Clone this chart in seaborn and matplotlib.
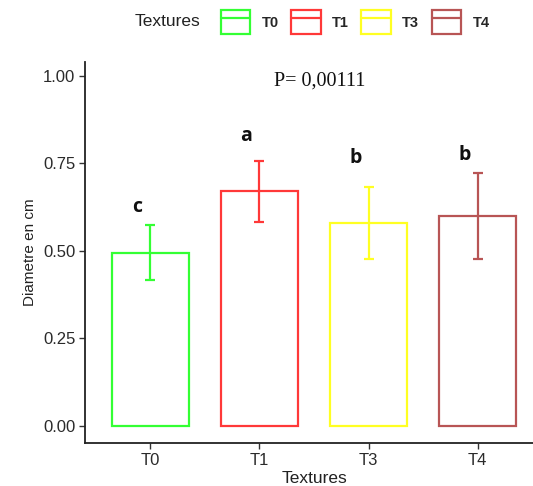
import matplotlib
matplotlib.use("Agg")
import matplotlib.pyplot as plt
import seaborn as sns
import pandas as pd
from matplotlib.patches import Patch
from matplotlib.lines import Line2D
from matplotlib.legend_handler import HandlerTuple

textures = ["T0", "T1", "T3", "T4"]
means = [0.495, 0.670, 0.578, 0.600]
sds = [0.080, 0.087, 0.103, 0.123]
letters = ["c", "a", "b", "b"]
letter_y = [0.625, 0.828, 0.765, 0.774]
colors = ["#33FF33", "#FF3838", "#FFFF22", "#B85555"]
y_ticks = [0.00, 0.25, 0.50, 0.75, 1.00]

sns.set_theme(style="white")
plt.rcParams["font.family"] = ["Liberation Sans", "DejaVu Sans"]

df = pd.DataFrame({"Textures": textures, "Diametre": means, "sd": sds})

fig = plt.figure(figsize=(5.33, 4.86), dpi=100)
ax = fig.add_axes([85 / 533, 1 - 443 / 486, (543 - 85) / 533, (443 - 62) / 486])

sns.barplot(data=df, x="Textures", y="Diametre", hue="Textures", palette=colors,
            fill=False, width=0.7, errorbar=None, legend=False, linewidth=1.6, ax=ax)

for i, (m, s, c) in enumerate(zip(means, sds, colors)):
    ax.errorbar(i, m, yerr=s, color=c, linewidth=1.6, capsize=3.5, capthick=1.6)
    ax.text(i - 0.12, letter_y[i], letters[i], ha="center", va="center",
            fontsize=14, fontweight="bold", family=["Open Sans", "DejaVu Sans"], color="#111111")

ax.text(1.55, 0.985, "P= 0,00111", ha="center", va="center", fontsize=14.5,
        family=["Liberation Serif", "DejaVu Serif"], color="#111111")

ax.set_xlim(-0.6, 3.6)
ax.set_ylim(-0.05, 1.04)
ax.set_yticks(y_ticks)
ax.set_yticklabels([f"{v:.2f}" for v in y_ticks])
ax.set_xlabel("Textures", fontsize=12.5, color="#222222", labelpad=2)
ax.set_ylabel("Diametre en cm", fontsize=11, color="#222222", labelpad=4)
ax.tick_params(axis="both", which="both", length=4, width=1, color="#333333",
               labelsize=12, labelcolor="#2a2a2a", left=True, bottom=True, pad=3)
for side in ["top", "right"]:
    ax.spines[side].set_visible(False)
for side in ["left", "bottom"]:
    ax.spines[side].set_color("#222222")
    ax.spines[side].set_linewidth(1.3)

handles = []
for c in colors:
    handles.append((Patch(facecolor="white", edgecolor=c, linewidth=1.6),
                    Line2D([], [], color=c, linewidth=1.6)))
fig.text(135 / 533, 1 - 22 / 486, "Textures", ha="left", va="center", fontsize=12.5, color="#222222")
fig.legend(handles, textures, handler_map={tuple: HandlerTuple(ndivide=1, pad=0)},
           ncol=4, loc="center left", bbox_to_anchor=(221 / 533, 1 - 22 / 486),
           frameon=False, handlelength=2.0, handleheight=2.1,
           columnspacing=0.85, handletextpad=0.8, borderaxespad=0, borderpad=0,
           prop={"weight": "bold", "size": 10.5})

fig.savefig("out.png", dpi=100)
